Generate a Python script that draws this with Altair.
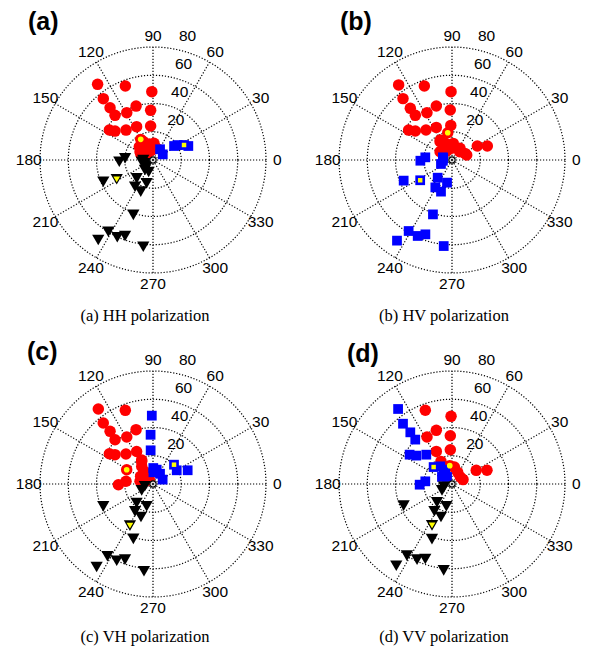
import pandas as pd
import altair as alt

# ---------------- data: (angle in degrees, radius) ----------------
# (a) HH polarization
HH_CIRCLE_ANGLE = [126.2, 110.5, 91.0, 129.0, 129.4, 107.4, 92.7, 130.4, 119.0, 145.5, 142.7, 132.0, 116.2, 94.0,
                   120.8, 135.9, 124.2, 103.0, 86.6, 147.3, 127.0, 98.0, 72.6, 117.6, 155.0, 140.0]
HH_CIRCLE_R = [66.4, 55.9, 48.4, 55.9, 47.9, 40.0, 35.2, 41.5, 38.3, 37.5, 33.8, 28.5, 26.3, 24.1,
               17.0, 13.5, 11.4, 11.6, 11.8, 10.9, 7.4, 7.1, 8.7, 14.7, 9.5, 5.5]
HH_SQUARE_ANGLE = [56.7, 30.0, 33.6, 31.2, 25.8, 21.6]
HH_SQUARE_R = [9.1, 8.0, 17.9, 20.4, 24.4, 26.9]
HH_TRIANGLE_ANGLE = [182.9, 176.5, 188.5, 211.8, 228.5, 254.7, 236.1, 248.8, 203.6, 250.3, 208.0, 238.1, 235.6,
                     245.2, 249.8, 263.6, 180.0, 216.0, 231.0, 250.0]
HH_TRIANGLE_R = [23.9, 19.8, 8.1, 6.7, 17.4, 17.1, 22.8, 24.0, 38.4, 41.3, 29.1, 59.8, 68.6,
                 60.3, 57.3, 61.8, 6.9, 4.1, 9.1, 9.0]
HH_HIGHLIGHT = {"circle": 14, "square": 4, "triangle": 10}

# (b) HV polarization
HV_CIRCLE_ANGLE = [125.4, 110.5, 90.8, 128.6, 128.9, 106.2, 92.0, 129.4, 117.9, 145.4, 141.7, 130.9, 115.7, 92.0,
                   98.9, 123.0, 111.7, 85.6, 55.5, 145.0, 117.9, 141.5, 94.8, 47.5, 29.0, 21.6, 18.6, 27.0, 120.3]
HV_CIRCLE_R = [65.2, 55.9, 48.4, 55.6, 47.0, 39.8, 35.4, 40.9, 37.9, 37.3, 33.1, 28.1, 25.6, 24.5,
               19.5, 15.5, 12.7, 11.8, 10.0, 10.3, 7.5, 7.5, 8.3, 8.0, 20.5, 26.9, 11.0, 10.3, 16.4]
HV_SQUARE_ANGLE = [181.3, 174.3, 169.0, 163.5, 199.8, 185.0, 203.1, 212.5, 231.0, 257.6, 238.7, 250.8, 250.7,
                   238.6, 235.7, 245.7, 250.3, 264.5]
HV_SQUARE_R = [22.4, 19.0, 6.3, 6.7, 8.3, 6.5, 37.2, 26.7, 16.1, 16.4, 22.7, 23.7, 40.8,
               58.9, 69.1, 59.0, 55.9, 61.2]
HV_TRIANGLE_ANGLE = []
HV_TRIANGLE_R = []
HV_HIGHLIGHT = {"circle": 14, "square": 7}

# (c) VH polarization
VH_CIRCLE_ANGLE = [126.1, 110.6, 129.2, 129.2, 107.3, 130.6, 119.2, 145.2, 142.3, 132.0, 116.7, 151.5, 181.2,
                   174.3, 116.6, 122.6, 125.4, 148.0, 129.8, 161.6, 168.3, 130.0, 115.2]
VH_CIRCLE_R = [65.7, 55.7, 55.7, 48.1, 40.3, 41.3, 38.1, 37.6, 34.0, 28.6, 25.8, 21.2, 24.5,
               19.2, 17.9, 14.8, 11.0, 10.3, 7.0, 6.0, 9.4, 4.0, 18.8]
VH_SQUARE_ANGLE = [91.0, 92.8, 94.0, 89.0, 88.0, 55.6, 24.5, 42.6, 30.0, 21.6, 75.6]
VH_SQUARE_R = [48.4, 34.9, 23.9, 11.3, 8.3, 8.8, 7.5, 20.2, 19.4, 26.4, 10.5]
VH_TRIANGLE_ANGLE = [209.4, 195.0, 204.2, 229.3, 254.1, 236.8, 250.0, 241.0, 250.3, 237.8, 235.8, 244.7, 249.7, 264.1]
VH_TRIANGLE_R = [9.2, 6.0, 38.6, 17.8, 16.4, 23.2, 24.9, 33.7, 41.3, 60.5, 71.0, 60.1, 57.1, 62.1]
VH_HIGHLIGHT = {"circle": 11, "square": 7, "triangle": 7}

# (d) VV polarization
VV_CIRCLE_ANGLE = [109.9, 90.8, 106.3, 92.0, 118.0, 115.7, 92.8, 97.0, 29.4, 21.4, 21.7, 116.0, 82.0, 64.0, 40.0]
VV_CIRCLE_R = [55.5, 47.9, 39.6, 34.2, 37.7, 25.6, 24.3, 13.1, 19.7, 26.6, 8.4, 17.8, 12.1, 9.2, 7.7]
VV_SQUARE_ANGLE = [125.7, 129.1, 128.9, 129.6, 145.3, 141.5, 131.2, 137.3, 181.2, 174.3, 123.6, 125.4, 144.8,
                   125.0, 115.0]
VV_SQUARE_R = [65.4, 55.0, 47.0, 40.8, 36.5, 32.3, 27.6, 17.7, 22.9, 19.0, 15.0, 10.2, 8.7, 6.1, 11.2]
VV_TRIANGLE_ANGLE = [212.4, 200.0, 204.1, 230.8, 255.8, 237.2, 251.5, 244.2, 250.0, 237.8, 235.7, 245.2, 250.4, 264.5]
VV_TRIANGLE_R = [8.4, 6.0, 37.5, 16.8, 16.3, 23.0, 24.6, 32.5, 41.5, 59.9, 70.0, 59.0, 56.4, 61.4]
VV_HIGHLIGHT = {"circle": 7, "square": 7, "triangle": 7}

PANEL_LETTERS = ["(a)", "(b)", "(c)", "(d)"]
CAPTIONS = ["(a) HH polarization", "(b) HV polarization", "(c) VH polarization", "(d) VV polarization"]

RING_TICKS = [20, 40, 60, 80]
ANGLE_TICKS = [0, 30, 60, 90, 120, 150, 180, 210, 240, 270, 300, 330]
SPOKE_ANGLES = [0, 30, 60, 90, 120, 150]
RMAX = 80

# ---------------- layout ----------------
PX_PER_UNIT = 113.0 / 80.0
W = 279
H_TOP = 317
H_BOT = 314
CX, CY = 145, 152
X_DOM = [-CX / PX_PER_UNIT, (W - CX) / PX_PER_UNIT]

SERIES_STYLE = {
    "circle": dict(shape="circle", color="#ff0000", size=132, hl_size=32),
    "square": dict(shape="square", color="#0000ff", size=95, hl_size=20),
    "triangle": dict(shape="triangle-down", color="#000000", size=150, hl_size=45),
}
DOT = [1.2, 1.8]
GRID_W = 1.2
NUM_FONT = "Liberation Sans"


def enc(h, xf="px", yf="py"):
    ydom = [-(h - CY) / PX_PER_UNIT, CY / PX_PER_UNIT]
    return dict(
        x=alt.X(f"{xf}:Q", scale=alt.Scale(domain=X_DOM, nice=False, zero=False), axis=None),
        y=alt.Y(f"{yf}:Q", scale=alt.Scale(domain=ydom, nice=False, zero=False), axis=None),
    )


POLAR = dict(px="datum.r * cos(datum.angle * PI / 180)", py="datum.r * sin(datum.angle * PI / 180)")


def panel(series, highlight, letter, caption, h, letter_pos, cap_y):
    layers = []
    # grid rings
    ring_df = pd.DataFrame([(rv, a) for rv in RING_TICKS for a in range(0, 361, 2)], columns=["r", "angle"])
    layers.append(
        alt.Chart(ring_df).mark_line(color="black", strokeDash=DOT, strokeWidth=GRID_W)
        .transform_calculate(**POLAR)
        .encode(**enc(h), detail="r:N", order="angle:Q")
    )
    # spokes
    spoke_df = pd.DataFrame({"angle": SPOKE_ANGLES})
    layers.append(
        alt.Chart(spoke_df).mark_rule(color="black", strokeDash=DOT, strokeWidth=GRID_W)
        .transform_calculate(
            px=f"-{RMAX} * cos(datum.angle * PI / 180)", py=f"-{RMAX} * sin(datum.angle * PI / 180)",
            px2=f"{RMAX} * cos(datum.angle * PI / 180)", py2=f"{RMAX} * sin(datum.angle * PI / 180)",
        )
        .encode(**enc(h), x2="px2:Q", y2="py2:Q")
    )
    # angle labels
    ang_df = pd.DataFrame({"angle": ANGLE_TICKS})
    layers.append(
        alt.Chart(ang_df).mark_text(font=NUM_FONT, fontSize=15.5, color="black", align="center", baseline="middle")
        .transform_calculate(
            px=f"1.1 * {RMAX} * cos(datum.angle * PI / 180)", py=f"1.1 * {RMAX} * sin(datum.angle * PI / 180)",
            lab="toString(datum.angle)",
        )
        .encode(**enc(h), text="lab:N")
    )
    # ring labels
    rl_df = pd.DataFrame({"v": RING_TICKS})
    layers.append(
        alt.Chart(rl_df).mark_text(font=NUM_FONT, fontSize=15.5, color="black", align="left",
                                   baseline="alphabetic", dx=10, dy=-6)
        .transform_calculate(
            px="(datum.v + 1) * cos(82 * PI / 180)", py="(datum.v + 1) * sin(82 * PI / 180)",
            lab="toString(datum.v)",
        )
        .encode(**enc(h), text="lab:N")
    )
    # data series
    hl_rows = []
    for name in ["circle", "square", "triangle"]:
        ang, rr = series[name]
        if not ang:
            continue
        st = SERIES_STYLE[name]
        df = pd.DataFrame({"angle": ang, "r": rr})
        layers.append(
            alt.Chart(df).mark_point(filled=True, opacity=1, shape=st["shape"], size=st["size"], color=st["color"])
            .transform_calculate(**POLAR)
            .encode(**enc(h))
        )
        if name in highlight:
            i = highlight[name]
            hl_rows.append((name, ang[i], rr[i]))
    for name, a, r in hl_rows:
        st = SERIES_STYLE[name]
        df = pd.DataFrame({"angle": [a], "r": [r]})
        layers.append(
            alt.Chart(df).mark_point(filled=True, opacity=1, shape=st["shape"], size=st["hl_size"], color="#ffff00")
            .transform_calculate(**POLAR)
            .encode(**enc(h))
        )
    # origin marker
    o_df = pd.DataFrame({"angle": [0], "r": [0]})
    layers.append(
        alt.Chart(o_df).mark_point(shape="circle", size=40, filled=False, color="black", strokeWidth=1.2,
                                   fill="#dddddd", fillOpacity=1, opacity=1)
        .transform_calculate(**POLAR).encode(**enc(h))
    )
    layers.append(
        alt.Chart(o_df).mark_point(shape="circle", size=5, filled=True, color="black", opacity=1)
        .transform_calculate(**POLAR).encode(**enc(h))
    )
    # panel letter
    layers.append(
        alt.Chart(pd.DataFrame({"t": [letter]})).mark_text(
            font=NUM_FONT, fontSize=25, fontWeight="bold", align="left", baseline="alphabetic", color="black")
        .encode(x=alt.value(letter_pos[0]), y=alt.value(letter_pos[1]), text="t:N")
    )
    # caption
    layers.append(
        alt.Chart(pd.DataFrame({"t": [caption]})).mark_text(
            font="Liberation Serif", fontSize=16.5, align="center", baseline="alphabetic", color="black")
        .encode(x=alt.value(CX - 8), y=alt.value(cap_y), text="t:N")
    )
    return alt.layer(*layers).properties(width=W, height=h)


pa = panel({"circle": (HH_CIRCLE_ANGLE, HH_CIRCLE_R), "square": (HH_SQUARE_ANGLE, HH_SQUARE_R),
            "triangle": (HH_TRIANGLE_ANGLE, HH_TRIANGLE_R)}, HH_HIGHLIGHT,
           PANEL_LETTERS[0], CAPTIONS[0], H_TOP, (CX - 125, CY - 130), 313)
pb = panel({"circle": (HV_CIRCLE_ANGLE, HV_CIRCLE_R), "square": (HV_SQUARE_ANGLE, HV_SQUARE_R),
            "triangle": (HV_TRIANGLE_ANGLE, HV_TRIANGLE_R)}, HV_HIGHLIGHT,
           PANEL_LETTERS[1], CAPTIONS[1], H_TOP, (CX - 112, CY - 130), 313)
pc = panel({"circle": (VH_CIRCLE_ANGLE, VH_CIRCLE_R), "square": (VH_SQUARE_ANGLE, VH_SQUARE_R),
            "triangle": (VH_TRIANGLE_ANGLE, VH_TRIANGLE_R)}, VH_HIGHLIGHT,
           PANEL_LETTERS[2], CAPTIONS[2], H_BOT, (CX - 126, CY - 124), 310)
pd_ = panel({"circle": (VV_CIRCLE_ANGLE, VV_CIRCLE_R), "square": (VV_SQUARE_ANGLE, VV_SQUARE_R),
             "triangle": (VV_TRIANGLE_ANGLE, VV_TRIANGLE_R)}, VV_HIGHLIGHT,
            PANEL_LETTERS[3], CAPTIONS[3], H_BOT, (CX - 105, CY - 122), 310)

chart = alt.vconcat(
    alt.hconcat(pa, pb, spacing=20),
    alt.hconcat(pc, pd_, spacing=20),
    spacing=7,
).properties(padding=0).configure_view(stroke=None)

chart.save("out.html", embed_options={"renderer": "svg", "actions": False})
